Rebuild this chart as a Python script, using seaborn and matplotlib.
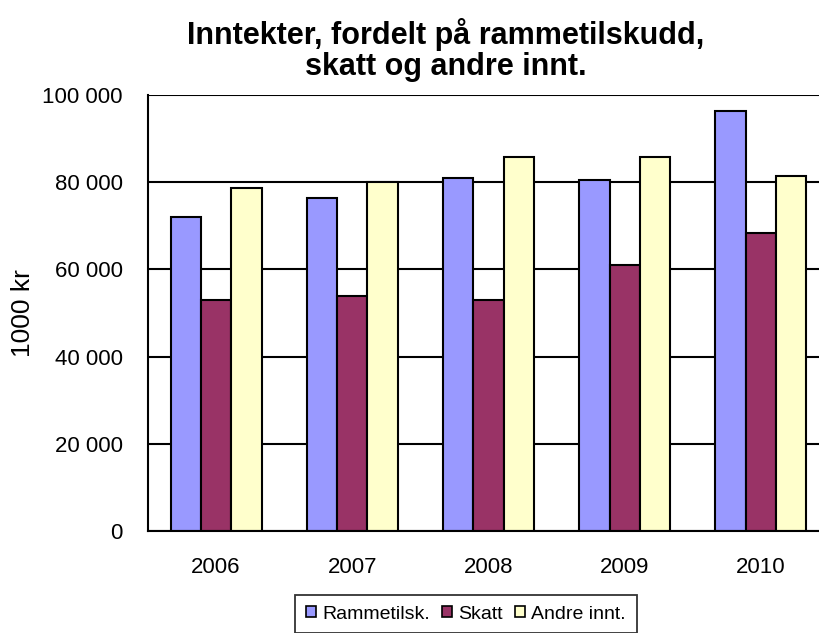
import numpy as np
import pandas as pd
import matplotlib
matplotlib.use("Agg")
import matplotlib.pyplot as plt
import seaborn as sns
from matplotlib.ticker import FuncFormatter, FixedLocator

# data (1000 kr)
years = ["2006", "2007", "2008", "2009", "2010"]
rammetilsk = [72000, 76400, 81000, 80400, 96300]
skatt = [53000, 54000, 53000, 61100, 68400]
andre_innt = [78700, 80000, 85800, 85800, 81400]
series_names = ["Rammetilsk.", "Skatt", "Andre innt."]
colors = ["#9999FF", "#993366", "#FFFFCC"]

df = pd.DataFrame({
    "year": years * 3,
    "value": rammetilsk + skatt + andre_innt,
    "series": [series_names[0]] * 5 + [series_names[1]] * 5 + [series_names[2]] * 5,
})

sns.set_style("white")
plt.rcParams["font.family"] = ["Liberation Sans", "DejaVu Sans"]
plt.rcParams["text.color"] = "black"
plt.rcParams["xtick.color"] = "black"
plt.rcParams["ytick.color"] = "black"

fig = plt.figure(figsize=(8.2, 6.33), dpi=100)
ax = fig.add_axes([148 / 820, 102 / 633, 681 / 820, 436 / 633])

sns.barplot(data=df, x="year", y="value", hue="series", palette=colors,
            saturation=1, width=0.667, edgecolor="black", linewidth=1.5,
            ax=ax, legend=False)

ax.set_ylim(0, 100000)
ax.set_xlim(-0.5, 4.5)
ax.set_yticks([0, 20000, 40000, 60000, 80000, 100000])
ax.yaxis.set_major_formatter(FuncFormatter(lambda v, p: f"{int(v):,}".replace(",", " ")))
ax.yaxis.grid(True, color="black", linewidth=1.5)
ax.set_axisbelow(True)

# category boundaries carry the ticks, labels sit at the centres
ax.xaxis.set_major_locator(FixedLocator([-0.5, 0.5, 1.5, 2.5, 3.5, 4.5]))
ax.xaxis.set_minor_locator(FixedLocator(range(len(years))))
ax.set_xticklabels([""] * 6)
ax.set_xticklabels(years, minor=True)
ax.tick_params(axis="x", which="major", direction="out", length=9, width=1.5, color="black")
ax.tick_params(axis="x", which="minor", length=0, pad=19, labelsize=16, labelcolor="black")
ax.tick_params(axis="y", direction="inout", length=10, width=1.5, color="black",
               labelsize=16, pad=13, labelcolor="black")

for s in ["top", "right"]:
    ax.spines[s].set_visible(False)
for s in ["left", "bottom"]:
    ax.spines[s].set_color("black")
    ax.spines[s].set_linewidth(1.5)

ax.set_xlabel("")
ax.set_ylabel("")
fig.text(23 / 820, 1 - 313 / 633, "1000 kr", rotation=90, ha="center", va="center",
         fontsize=19, color="black")

fig.text(446 / 820, 1 - 50 / 633, "Inntekter, fordelt på rammetilskudd,\nskatt og andre innt.",
         ha="center", va="center", fontsize=22, fontweight="bold", linespacing=1.02,
         color="black")

handles = [plt.Rectangle((0, 0), 1, 1, facecolor=c, edgecolor="black", linewidth=1.2)
           for c in colors]
leg = fig.legend(handles, series_names, loc="upper center", ncol=3,
                 bbox_to_anchor=(466 / 820, 1 - 595 / 633), fontsize=14,
                 frameon=True, fancybox=False, edgecolor="black",
                 handlelength=0.5, handleheight=0.5, handletextpad=0.35,
                 columnspacing=0.6, borderpad=0.55, borderaxespad=0)
leg.get_frame().set_linewidth(1.3)
for t in leg.get_texts():
    t.set_color("black")

fig.savefig("out.png", dpi=100)
